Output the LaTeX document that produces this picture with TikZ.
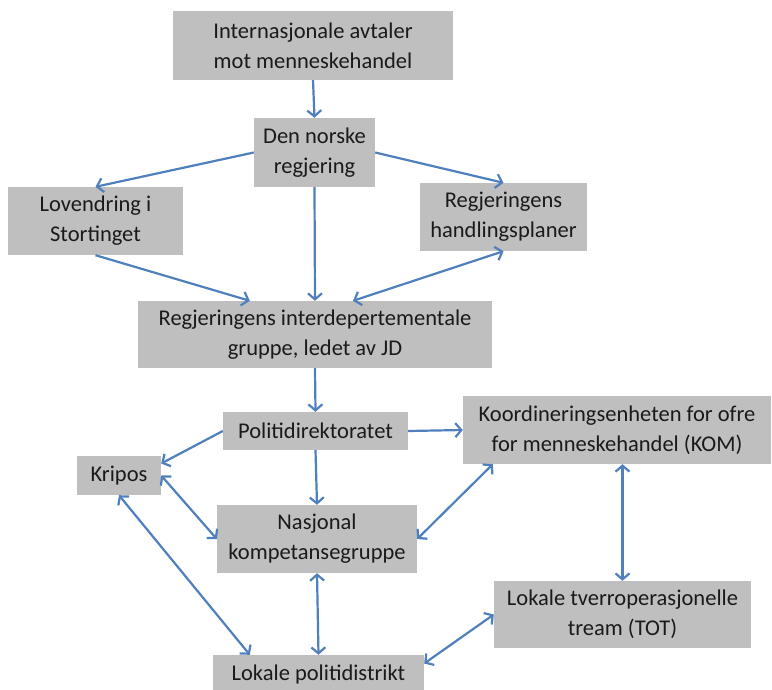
\documentclass[tikz,border=0pt]{standalone}
\usepackage{fontspec}
\setmainfont{Carlito}
\usetikzlibrary{arrows.meta}
\definecolor{boxgray}{HTML}{BFBFBF}
\definecolor{arrowblue}{HTML}{4F7FBD}
\definecolor{txt}{HTML}{1A1A1A}
\begin{document}
\begin{tikzpicture}[x=1pt,y=-1pt,
  box/.style={fill=boxgray, inner sep=0pt, text=txt, align=center,
    font=\fontsize{22.5}{30}\selectfont},
  conn/.style={draw=arrowblue, line width=2.2pt, -{Straight Barb[length=6pt,width=14pt]}},
  biconn/.style={draw=arrowblue, line width=2.2pt, {Straight Barb[length=6pt,width=14pt]}-{Straight Barb[length=6pt,width=14pt]}}]
\useasboundingbox (0,0) rectangle (772,689);
\node[box, minimum width=280pt, minimum height=69pt] (intl) at (313,45.5) {Internasjonale avtaler\\mot menneskehandel};
\node[box, minimum width=121pt, minimum height=69pt] (norsk) at (314.5,152.5) {Den norske\\regjering};
\node[box, minimum width=175pt, minimum height=68pt] (lov) at (95.5,221) {Lovendring i\\Stortinget};
\node[box, minimum width=167pt, minimum height=68pt] (hand) at (503.5,217) {Regjeringens\\handlingsplaner};
\node[box, minimum width=354pt, minimum height=67pt] (inter) at (315,334.5) {Regjeringens interdepertementale\\gruppe, ledet av JD};
\node[box, minimum width=185pt, minimum height=38pt] (poli) at (315.5,431) {Politidirektoratet};
\node[box, minimum width=308pt, minimum height=68pt] (kom) at (617,430) {Koordineringsenheten for ofre\\for menneskehandel (KOM)};
\node[box, minimum width=84pt, minimum height=39pt] (kripos) at (119,475.5) {Kripos};
\node[box, minimum width=200pt, minimum height=68pt] (nasj) at (317,539) {Nasjonal\\kompetansegruppe};
\node[box, minimum width=257pt, minimum height=67pt] (tot) at (622.5,614.5) {Lokale tverroperasjonelle\\tream (TOT)};
\node[box, minimum width=211pt, minimum height=39pt] (lokale) at (318.5,674.5) {Lokale politidistrikt};

\draw[conn] (intl.south) -- (norsk.north);
\draw[conn] (norsk.west) -- (lov.north);
\draw[conn] (norsk.east) -- (hand.north);
\draw[conn] (norsk.south) -- (inter.north);
\draw[conn] (lov.south) -- ([xshift=112pt]inter.north west);
\draw[biconn] ([xshift=38pt]inter.north) -- (hand.south);
\draw[conn] (inter.south) -- (poli.north);
\draw[conn] (poli.west) -- ([yshift=12pt]kripos.east);
\draw[conn] (poli.east) -- (kom.west);
\draw[conn] (poli.south) -- (nasj.north);
\draw[biconn] (kripos.east) -- (nasj.west);
\draw[biconn] ([xshift=30pt]kom.south west) -- (nasj.east);
\draw[biconn] (tot.north |- kom.south) -- (tot.north);
\draw[biconn] (kripos.south) -- ([xshift=37pt]lokale.north west);
\draw[biconn] (nasj.south) -- (lokale.north);
\draw[biconn] (tot.west) -- ([yshift=11pt]lokale.east);
\end{tikzpicture}
\end{document}
